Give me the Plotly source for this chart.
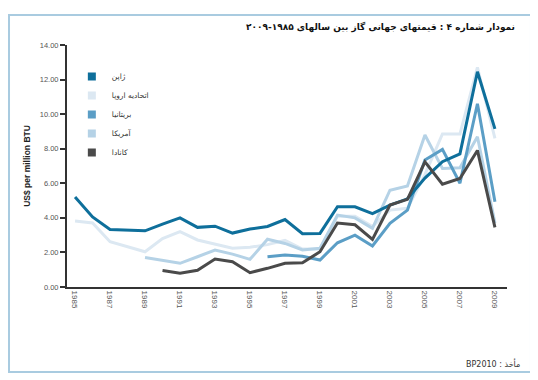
import plotly.graph_objects as go

years = list(range(1985, 2010))

japan = [5.2, 4.05, 3.33, 3.3, 3.25, 3.64, 4.0, 3.45, 3.52, 3.12, 3.35, 3.5, 3.9, 3.08, 3.1,
         4.64, 4.64, 4.25, 4.74, 5.1, 6.3, 7.25, 7.7, 12.45, 9.15]
eu = [3.82, 3.7, 2.62, 2.33, 2.04, 2.8, 3.2, 2.72, 2.49, 2.24, 2.3, 2.45, 2.7, 2.2, 2.2,
      4.1, 4.1, 3.5, 4.45, 4.55, 6.5, 8.85, 8.85, 12.7, 8.6]
us_years = list(range(1989, 2010))
us = [1.71, 1.55, 1.37, 1.75, 2.14, 1.9, 1.6, 2.76, 2.52, 2.14, 2.24, 4.16, 4.0, 3.39,
      5.6, 5.84, 8.79, 6.86, 6.9, 8.69, 3.7]
uk_years = list(range(1996, 2010))
uk = [1.75, 1.85, 1.78, 1.56, 2.56, 3.0, 2.37, 3.68, 4.45, 7.35, 7.96, 6.0, 10.6, 4.93]
ca_years = list(range(1990, 2010))
canada = [0.95, 0.8, 0.97, 1.62, 1.46, 0.83, 1.08, 1.37, 1.4, 2.04, 3.7, 3.6, 2.75, 4.74,
          5.07, 7.24, 5.95, 6.28, 7.9, 3.45]

names = ["ژاپن", "اتحادیه اروپا", "بریتانیا", "آمریکا", "کانادا"]
colors = ["#0e6f9b", "#dce8f2", "#5b9ec6", "#b5d2e6", "#4a4a4a"]

series = {
    1: (years, eu),
    3: (us_years, us),
    2: (uk_years, uk),
    0: (years, japan),
    4: (ca_years, canada),
}

fig = go.Figure()
# lines (drawn in stacking order)
for idx in [1, 3, 2, 0, 4]:
    xs, ys = series[idx]
    fig.add_trace(go.Scatter(x=xs, y=ys, mode="lines", showlegend=False,
                             line=dict(color=colors[idx], width=3), name=names[idx]))
# legend entries (square swatches)
for idx in range(5):
    fig.add_trace(go.Scatter(x=[None], y=[None], mode="markers", name=names[idx],
                             marker=dict(symbol="square", size=8, color=colors[idx])))

font_main = "Liberation Sans, DejaVu Sans, Arial, sans-serif"
font_fa = "DejaVu Sans, Liberation Sans, sans-serif"

# page body has an 8px default margin, so the figure is sized to fit the window
fig.update_layout(
    width=530, height=372,
    margin=dict(l=59, r=31, t=37, b=93),
    paper_bgcolor="white", plot_bgcolor="white",
    font=dict(family=font_main, size=8, color="#555555"),
    showlegend=True,
    legend=dict(x=0.011, y=0.93, xanchor="left", yanchor="top",
                font=dict(family=font_fa, size=7.5, color="#333333"),
                bgcolor="rgba(0,0,0,0)", tracegroupgap=0),
    xaxis=dict(range=[1984.54, 2009.69], tickmode="array",
               tickvals=list(range(1985, 2010, 2)),
               ticktext=[str(y) for y in range(1985, 2010, 2)],
               tickangle=90, showgrid=False, zeroline=False, automargin=False,
               showline=True, linecolor="#333333", linewidth=2, ticks="",
               tickfont=dict(size=8, color="#555555")),
    yaxis=dict(range=[0, 14], tickmode="array", tickvals=[0, 2, 4, 6, 8, 10, 12, 14],
               ticktext=["0.00", "2.00", "4.00", "6.00", "8.00", "10.00", "12.00", "14.00"],
               showgrid=False, zeroline=False, showline=True, linecolor="#333333",
               linewidth=2, ticks="outside", ticklen=5, tickcolor="#333333", tickwidth=1.5,
               automargin=False,
               tickfont=dict(size=7.5, color="#555555"),
               title=dict(text="<b>US$ per million BTU</b>",
                          font=dict(size=8.5, color="#222222"), standoff=8)),
    shapes=[dict(type="rect", xref="paper", yref="paper",
                 x0=-0.1318, x1=1.0545, y0=-0.351, y1=1.124,
                 line=dict(color="#a9cbe0", width=2), fillcolor="rgba(0,0,0,0)")],
    annotations=[
        dict(text="<b>نمودار شماره ۴ : قیمتهای جهانی گاز بین سالهای ۱۹۸۵-۲۰۰۹</b>",
             xref="paper", yref="paper", x=1.0227, y=1.074, xanchor="right",
             yanchor="middle", showarrow=False,
             font=dict(family=font_fa, size=9, color="#111111")),
        dict(text="BP2010 : مأخذ", xref="paper", yref="paper", x=1.034, y=-0.318,
             xanchor="right", yanchor="middle", showarrow=False,
             font=dict(family=font_fa, size=8, color="#333333")),
    ],
)

fig.write_html("out.html")
